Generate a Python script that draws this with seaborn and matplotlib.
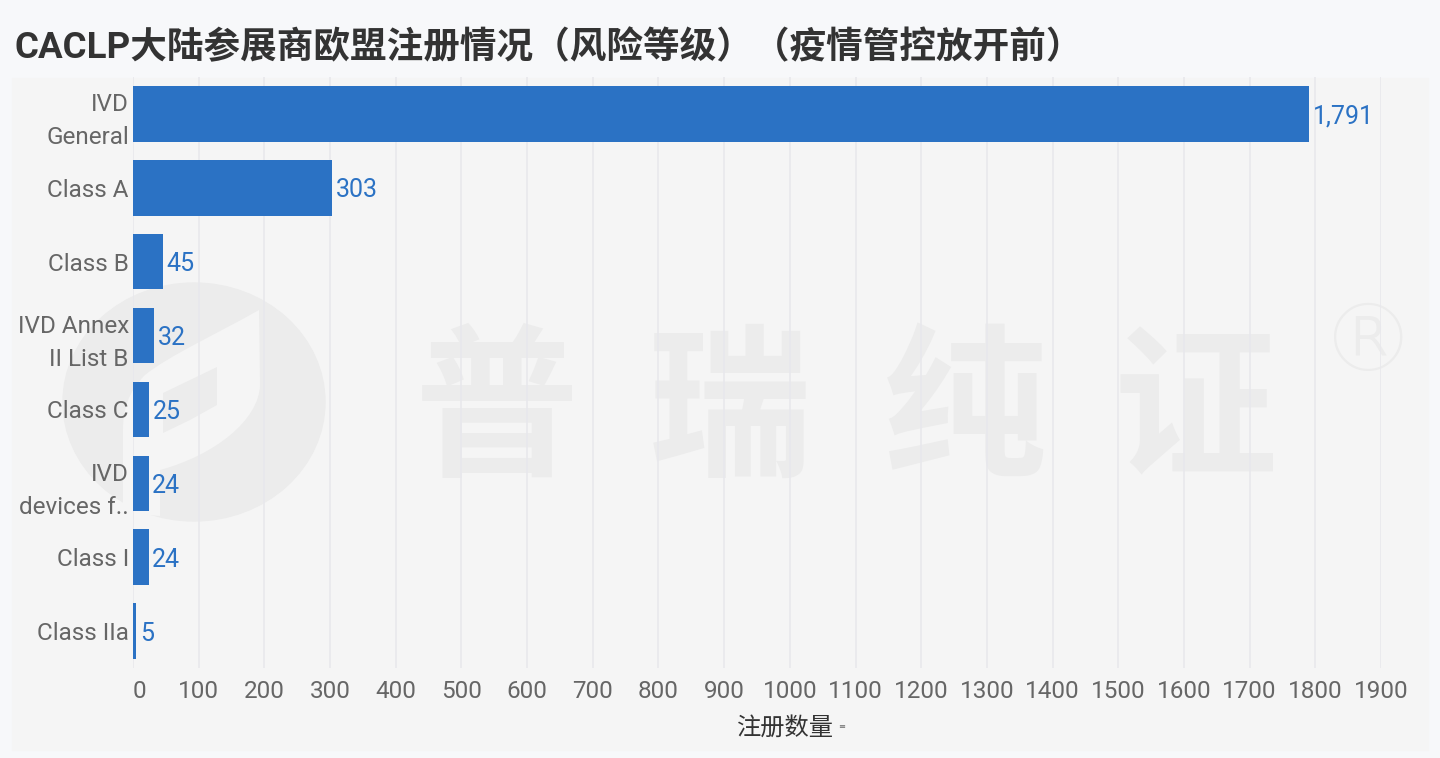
import matplotlib.pyplot as plt
import matplotlib.patches as mpatches
from matplotlib.path import Path
import pandas as pd
import seaborn as sns

categories = ['IVD\nGeneral', 'Class A', 'Class B', 'IVD Annex\nII List B', 'Class C',
              'IVD\ndevices f..', 'Class I', 'Class IIa']
counts = [1791, 303, 45, 32, 25, 24, 24, 5]
value_labels = ['1,791', '303', '45', '32', '25', '24', '24', '5']
x_ticks = list(range(0, 2000, 100))

title = 'CACLP大陆参展商欧盟注册情况（风险等级）（疫情管控放开前）'
x_label = '注册数量'
watermark = '普瑞纯证'
watermark_x = [497, 730, 965, 1195]

W, H = 1440, 758
panel = '#f5f5f5'
wm = '#ececec'


def px_path(verts, codes):
    # logo outline is given in image pixels, y pointing down
    return Path([(x, H - y) for x, y in verts], codes)


sns.set_theme(style='white')
plt.rcParams['font.family'] = ['Roboto', 'Noto Sans CJK SC', 'DejaVu Sans']

fig = plt.figure(figsize=(W / 100, H / 100), dpi=100, facecolor='#f7f8fa')

# grey panel behind the plot
fig.patches.append(mpatches.Rectangle((12 / W, 1 - 750 / H), 1416 / W, 672 / H,
                                      transform=fig.transFigure, color=panel, zorder=-5))

# watermark logo
fig.patches.append(mpatches.Ellipse((194, H - 402), 262, 238, transform=None, color=wm, zorder=-4))
M, L, C, Z = Path.MOVETO, Path.LINETO, Path.CURVE4, Path.CLOSEPOLY
leaf = px_path([(259, 310), (215, 335), (170, 355), (145, 375), (128, 392), (123, 410), (123, 430),
                (123, 513), (160, 516), (160, 470), (215, 455), (259, 420), (260, 385), (259, 310), (259, 310)],
               [M, C, C, C, C, C, C, L, L, L, C, C, C, L, Z])
fig.patches.append(mpatches.PathPatch(leaf, transform=None, facecolor=panel, edgecolor='none', zorder=-3))
inner = px_path([(217, 367), (190, 380), (163, 393), (163, 433), (190, 420), (217, 405), (217, 367), (217, 367)],
                [M, L, L, L, L, L, L, Z])
fig.patches.append(mpatches.PathPatch(inner, transform=None, facecolor=wm, edgecolor='none', zorder=-3))

# watermark wordmark
for ch, x in zip(watermark, watermark_x):
    fig.text(x / W, 1 - 418 / H, ch, ha='center', va='center', fontsize=118, color=wm,
             fontweight='bold', zorder=-2)
fig.text(1368 / W, 1 - 345 / H, '®', ha='center', va='center', fontsize=68, color=wm,
         family='DejaVu Sans', fontweight='light', zorder=-2)

ax = fig.add_axes([133 / W, 1 - 668 / H, (1381 - 133) / W, (668 - 77) / H])
ax.patch.set_alpha(0)

df = pd.DataFrame({'category': categories, 'count': counts})
sns.barplot(data=df, x='count', y='category', orient='h', color='#2b72c4', saturation=1,
            width=0.75, ax=ax, zorder=3, edgecolor='none')

for i, label in enumerate(value_labels):
    ax.annotate(label, (counts[i], i), xytext=(2.5, 0), textcoords='offset points', ha='left',
                va='center_baseline', fontsize=18, color='#2b72c4', zorder=4)

ax.set_xlim(0, 1900)
ax.set_ylim(7.5, -0.5)
ax.set_xticks(x_ticks)
ax.set_xticklabels([str(t) for t in x_ticks])
ax.get_xticklabels()[0].set_ha('left')
ax.xaxis.grid(True, color='#e8e8ec', linewidth=1.2)
ax.set_axisbelow(True)
ax.yaxis.grid(False)
ax.tick_params(axis='both', length=0, labelsize=17.5, labelcolor='#666666')
ax.tick_params(axis='x', pad=9)
ax.tick_params(axis='y', pad=3)
for label in ax.get_yticklabels():
    label.set_linespacing(1.55)
for spine in ax.spines.values():
    spine.set_visible(False)
ax.set_ylabel('')
ax.set_xlabel('')

fig.text(785 / W, 1 - 728 / H, x_label, ha='center', va='center', fontsize=17.5, color='#333333')
fig.text(842 / W, 1 - 727 / H, '≡', ha='center', va='center', fontsize=6, color='#666666',
         family='DejaVu Sans')
fig.text(14 / W, 1 - 48 / H, title, ha='left', va='center', fontsize=26.35, fontweight='bold',
         color='#333333')

fig.savefig('out.png', dpi=100, facecolor=fig.get_facecolor())
